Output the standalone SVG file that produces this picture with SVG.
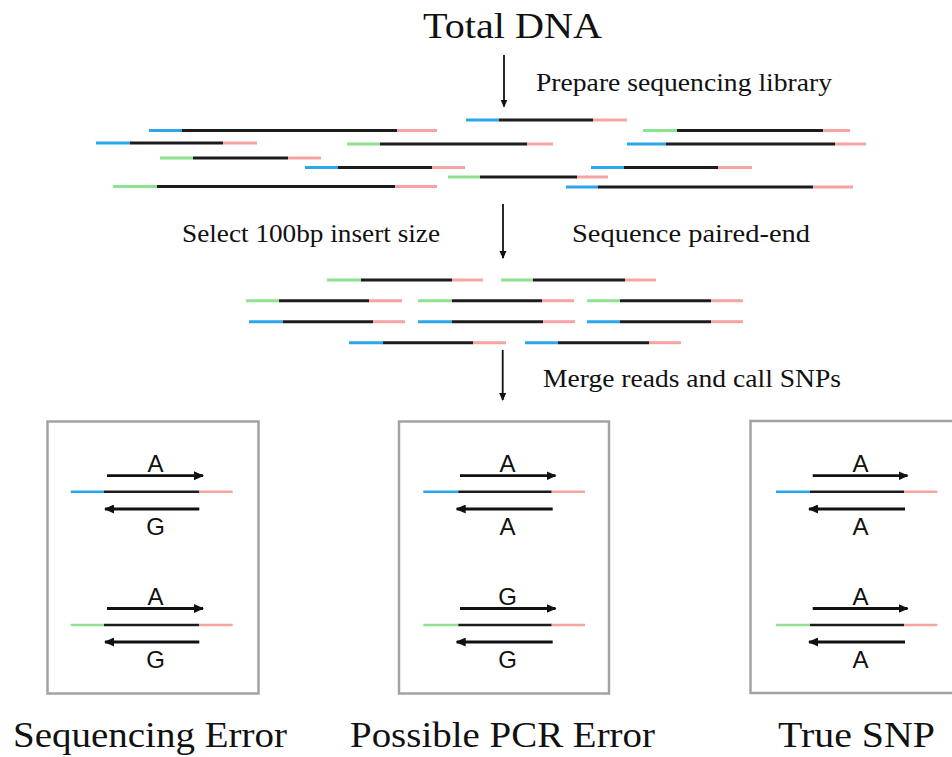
<svg xmlns="http://www.w3.org/2000/svg" width="952" height="757" viewBox="0 0 952 757">
<defs>
<style>
.serif{font-family:"Liberation Serif","Times New Roman",serif;fill:#111}
.sans{font-family:"Liberation Sans",Arial,sans-serif;font-size:24px;fill:#111;text-anchor:middle}
.b{stroke:#2ba6ea;stroke-width:3;fill:none}
.g{stroke:#8fe08f;stroke-width:3;fill:none}
.p{stroke:#f5a3a3;stroke-width:3;fill:none}
.k{stroke:#1c1c1c;stroke-width:3;fill:none}
.bx .b,.bx .g,.bx .p,.bx .k{stroke-width:2.5}
.frame{fill:none;stroke:#a3a3a3;stroke-width:2.5}
.arr{stroke:#111;stroke-width:2.8;fill:none}
.conn{stroke:#111;stroke-width:1.8;fill:none}
</style>
<marker id="ah" markerUnits="userSpaceOnUse" markerWidth="10" markerHeight="9" refX="9" refY="4.5" orient="auto">
<path d="M0,0 L10,4.5 L0,9 z" fill="#111"/>
</marker>
<marker id="ch" markerUnits="userSpaceOnUse" markerWidth="8" markerHeight="9" refX="7" refY="4.5" orient="auto">
<path d="M0,1 L8,4.5 L0,8 z" fill="#111"/>
</marker>
</defs>
<rect width="952" height="757" fill="#fff"/>

<g id="title"><text class="serif" x="423" y="38" font-size="36" textLength="179" lengthAdjust="spacingAndGlyphs">Total DNA</text></g>
<g id="step-prepare"><text class="serif" x="536" y="91" font-size="26" textLength="296" lengthAdjust="spacingAndGlyphs">Prepare sequencing library</text></g>
<g id="step-select"><text class="serif" x="182" y="242" font-size="26" textLength="258" lengthAdjust="spacingAndGlyphs">Select 100bp insert size</text></g>
<g id="step-sequence"><text class="serif" x="572" y="242" font-size="26" textLength="238" lengthAdjust="spacingAndGlyphs">Sequence paired-end</text></g>
<g id="step-merge"><text class="serif" x="543" y="387" font-size="26" textLength="298" lengthAdjust="spacingAndGlyphs">Merge reads and call SNPs</text></g>

<g id="library-fragments">
<path class="b" d="M466,120H499"/><path class="k" d="M499,120H593"/><path class="p" d="M593,120H627"/>
<path class="b" d="M149,130.5H182"/><path class="k" d="M182,130.5H397"/><path class="p" d="M397,130.5H437"/>
<path class="g" d="M643,130.5H677"/><path class="k" d="M677,130.5H823"/><path class="p" d="M823,130.5H850"/>
<path class="b" d="M96,143H130"/><path class="k" d="M130,143H223"/><path class="p" d="M223,143H257"/>
<path class="g" d="M347,144H380"/><path class="k" d="M380,144H527"/><path class="p" d="M527,144H553"/>
<path class="b" d="M627,144H666"/><path class="k" d="M666,144H835"/><path class="p" d="M835,144H866"/>
<path class="g" d="M160,158H193"/><path class="k" d="M193,158H288"/><path class="p" d="M288,158H321"/>
<path class="b" d="M305,167.5H338"/><path class="k" d="M338,167.5H432"/><path class="p" d="M432,167.5H465"/>
<path class="b" d="M591,167.5H624"/><path class="k" d="M624,167.5H718"/><path class="p" d="M718,167.5H752"/>
<path class="g" d="M448,177H480"/><path class="k" d="M480,177H577"/><path class="p" d="M577,177H608"/>
<path class="g" d="M113,186.5H157"/><path class="k" d="M157,186.5H395"/><path class="p" d="M395,186.5H437"/>
<path class="b" d="M566,187H598"/><path class="k" d="M598,187H813"/><path class="p" d="M813,187H853"/>
</g>

<g id="selected-fragments">
<path class="g" d="M327,280H361"/><path class="k" d="M361,280H452"/><path class="p" d="M452,280H483"/>
<path class="g" d="M501,280H533"/><path class="k" d="M533,280H625"/><path class="p" d="M625,280H656"/>
<path class="g" d="M246,300.7H279"/><path class="k" d="M279,300.7H369"/><path class="p" d="M369,300.7H402"/>
<path class="g" d="M418,300.7H452"/><path class="k" d="M452,300.7H542"/><path class="p" d="M542,300.7H574"/>
<path class="g" d="M587,300.7H620"/><path class="k" d="M620,300.7H711"/><path class="p" d="M711,300.7H743"/>
<path class="b" d="M249,321.7H283"/><path class="k" d="M283,321.7H373"/><path class="p" d="M373,321.7H405"/>
<path class="b" d="M418,321.7H452"/><path class="k" d="M452,321.7H543"/><path class="p" d="M543,321.7H575"/>
<path class="b" d="M587,321.7H620"/><path class="k" d="M620,321.7H711"/><path class="p" d="M711,321.7H743"/>
<path class="b" d="M349,342.7H383"/><path class="k" d="M383,342.7H473"/><path class="p" d="M473,342.7H506"/>
<path class="b" d="M525,342.7H558"/><path class="k" d="M558,342.7H649"/><path class="p" d="M649,342.7H681"/>
</g>

<g id="box-sequencing-error" class="bx">
<rect class="frame" x="47.5" y="421.5" width="211" height="272"/>
<text class="sans" x="155.5" y="471.5">A</text>
<path class="arr" d="M107,475.7H203" marker-end="url(#ah)"/>
<path class="b" d="M70.7,491.7H104"/><path class="k" d="M104,491.7H199.3"/><path class="p" d="M199.3,491.7H232.7"/>
<path class="arr" d="M199.3,509H105" marker-end="url(#ah)"/>
<text class="sans" x="155.5" y="534.5">G</text>
<text class="sans" x="155.5" y="605">A</text>
<path class="arr" d="M107,608.5H203" marker-end="url(#ah)"/>
<path class="g" d="M70.7,625H104"/><path class="k" d="M104,625H199.3"/><path class="p" d="M199.3,625H232.7"/>
<path class="arr" d="M199.3,642H105" marker-end="url(#ah)"/>
<text class="sans" x="155.5" y="668">G</text>
</g>

<g id="box-pcr-error" class="bx">
<rect class="frame" x="399" y="421.5" width="210" height="272"/>
<text class="sans" x="507.5" y="471.5">A</text>
<path class="arr" d="M460,475.7H555.5" marker-end="url(#ah)"/>
<path class="b" d="M423.3,491.7H458.3"/><path class="k" d="M458.3,491.7H551.7"/><path class="p" d="M551.7,491.7H585"/>
<path class="arr" d="M552.7,509H456.7" marker-end="url(#ah)"/>
<text class="sans" x="507.5" y="534.5">A</text>
<text class="sans" x="507.5" y="605">G</text>
<path class="arr" d="M460,608.5H555.5" marker-end="url(#ah)"/>
<path class="g" d="M423.3,625H458.3"/><path class="k" d="M458.3,625H551.7"/><path class="p" d="M551.7,625H585"/>
<path class="arr" d="M552.7,642H456.7" marker-end="url(#ah)"/>
<text class="sans" x="507.5" y="668">G</text>
</g>

<g id="box-true-snp" class="bx">
<rect class="frame" x="750.5" y="421" width="212" height="272"/>
<text class="sans" x="860.5" y="471.5">A</text>
<path class="arr" d="M812.7,475.7H907.5" marker-end="url(#ah)"/>
<path class="b" d="M776,491.7H810"/><path class="k" d="M810,491.7H904"/><path class="p" d="M904,491.7H937.3"/>
<path class="arr" d="M905,509H809" marker-end="url(#ah)"/>
<text class="sans" x="860.5" y="534.5">A</text>
<text class="sans" x="860.5" y="605">A</text>
<path class="arr" d="M812.7,608.5H907.5" marker-end="url(#ah)"/>
<path class="g" d="M776,625H810"/><path class="k" d="M810,625H904"/><path class="p" d="M904,625H937.3"/>
<path class="arr" d="M905,642H809" marker-end="url(#ah)"/>
<text class="sans" x="860.5" y="668">A</text>
</g>

<g id="label-sequencing-error"><text class="serif" x="13" y="746.5" font-size="36" textLength="274" lengthAdjust="spacingAndGlyphs">Sequencing Error</text></g>
<g id="label-pcr-error"><text class="serif" x="350" y="746.5" font-size="36" textLength="305" lengthAdjust="spacingAndGlyphs">Possible PCR Error</text></g>
<g id="label-true-snp"><text class="serif" x="778" y="746.5" font-size="36" textLength="157" lengthAdjust="spacingAndGlyphs">True SNP</text></g>

<g id="connectors">
<path class="conn" d="M504,55V106.5" marker-end="url(#ch)"/>
<path class="conn" d="M503,204V258" marker-end="url(#ch)"/>
<path class="conn" d="M502.7,350V400" marker-end="url(#ch)"/>
</g>
</svg>
